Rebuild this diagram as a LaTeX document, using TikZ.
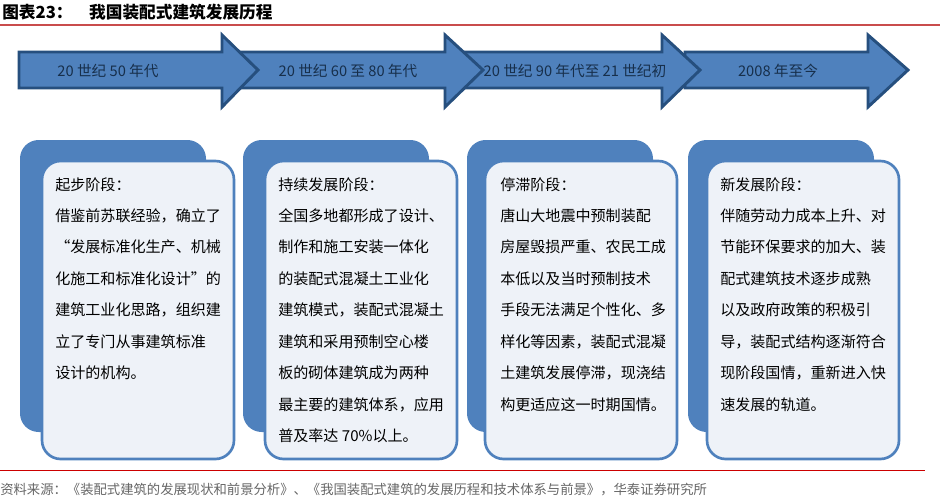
\documentclass[tikz,border=0pt]{standalone}
\usepackage{fontspec}
\setmainfont{Noto Sans CJK SC}
\begin{document}
\begin{tikzpicture}[x=0.75pt,y=-0.75pt]
\definecolor{ablue}{HTML}{4F81BD}
\definecolor{adark}{HTML}{264F7E}
\definecolor{cardbg}{HTML}{EEF2F8}
\tikzset{
 arr/.style={fill=ablue,draw=adark,line width=2.2pt,line join=miter},
 alab/.style={text=adark!60!black,font=\fontsize{11}{13}\selectfont},
 back/.style={fill=ablue,rounded corners=14pt},
 front/.style={fill=cardbg,draw=ablue,line width=2pt,rounded corners=14pt},
 ctext/.style={anchor=north west,align=left,font=\fontsize{11.3}{23.6}\selectfont,inner sep=0pt}
}
\useasboundingbox (0,0) rectangle (951,500);
\node[anchor=west,font=\bfseries\fontsize{12.5}{14}\selectfont,inner sep=0pt] (title) at (2,12) {图表23：\quad 我国装配式建筑发展历程};
\draw[red!70!black!70,line width=0.8pt] (0,25) -- (940,25);
\foreach \a/\hb/\t in {685/868/908,463/662/700,240/445/483,19/222/258}{
 \draw[arr] (\a,52) -- (\hb,52) -- (\hb,35) -- (\t,70) -- (\hb,107) -- (\hb,88) -- (\a,88) -- cycle;
}
\node[alab] (a1) at (108,71) {20 世纪 50 年代};
\node[alab] (a2) at (348,71) {20 世纪 60 至 80 年代};
\node[alab] (a3) at (575,71) {20 世纪 90 年代至 21 世纪初};
\node[alab] (a4) at (778,71) {2008 年至今};
\foreach \bx/\fx in {20/42,243/265,467/485,688/707}{
 \fill[back] (\bx,140) rectangle ++(186,292);
 \draw[front] (\fx,161) rectangle ++(192,298);
}
\node[ctext] (c1) at (55,177) {起步阶段：\\借鉴前苏联经验，确立了\\“发展标准化生产、机械\\化施工和标准化设计”的\\建筑工业化思路，组织建\\立了专门从事建筑标准\\设计的机构。};
\node[ctext] (c2) at (278,177) {持续发展阶段：\\全国多地都形成了设计、\\制作和施工安装一体化\\的装配式混凝土工业化\\建筑模式，装配式混凝土\\建筑和采用预制空心楼\\板的砌体建筑成为两种\\最主要的建筑体系，应用\\普及率达 70\%以上。};
\node[ctext] (c3) at (500,177) {停滞阶段：\\唐山大地震中预制装配\\房屋毁损严重、农民工成\\本低以及当时预制技术\\手段无法满足个性化、多\\样化等因素，装配式混凝\\土建筑发展停滞，现浇结\\构更适应这一时期国情。};
\node[ctext] (c4) at (720,177) {新发展阶段：\\伴随劳动力成本上升、对\\节能环保要求的加大、装\\配式建筑技术逐步成熟\\以及政府政策的积极引\\导，装配式结构逐渐符合\\现阶段国情，重新进入快\\速发展的轨道。};
\draw[red!80!black,line width=0.6pt] (0,470) -- (925,470);
\node[anchor=west,text=black!60,font=\fontsize{10}{11}\selectfont,inner sep=0pt] (src) at (0,490) {资料来源：《装配式建筑的发展现状和前景分析》、《我国装配式建筑的发展历程和技术体系与前景》，华泰证券研究所};
\end{tikzpicture}
\end{document}
